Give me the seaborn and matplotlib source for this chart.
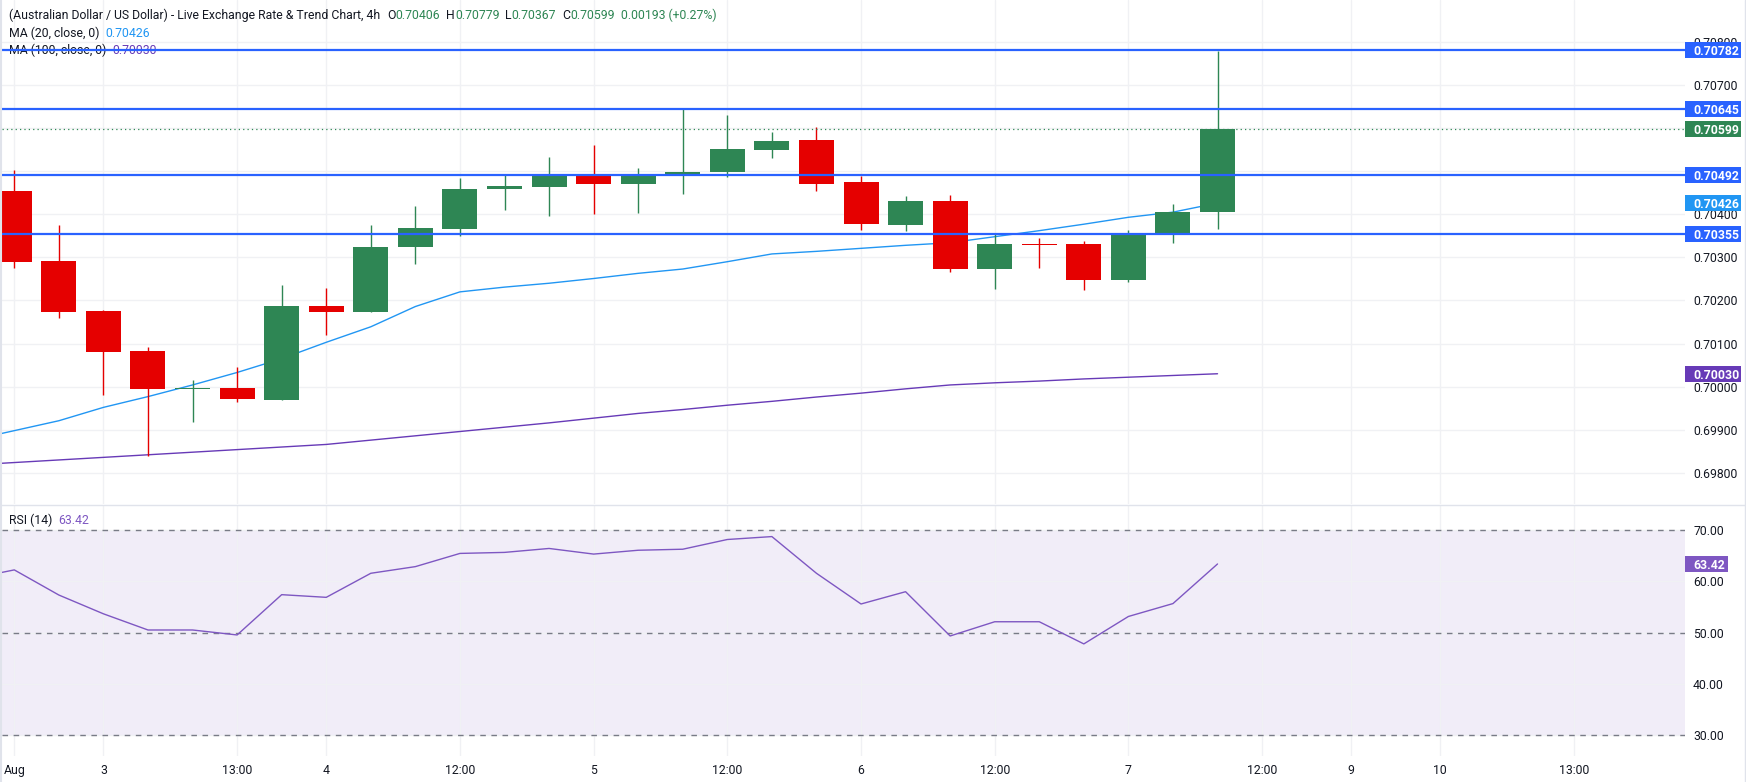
import numpy as np
import pandas as pd
import matplotlib
matplotlib.use("Agg")
import matplotlib.pyplot as plt
import matplotlib.transforms as mtransforms
from matplotlib.patches import Rectangle
from matplotlib.lines import Line2D
import seaborn as sns

# ---------------- data ----------------
opens = [0.70454, 0.70292, 0.70176, 0.70083, 0.69995, 0.69997, 0.69970, 0.70187, 0.70173, 0.70324,
         0.70366, 0.70459, 0.70464, 0.70489, 0.70471, 0.70491, 0.70497, 0.70549, 0.70572, 0.70475,
         0.70376, 0.70431, 0.70273, 0.70331, 0.70331, 0.70248, 0.70353, 0.70406]
highs = [0.70503, 0.70375, 0.70178, 0.70093, 0.70016, 0.70046, 0.70236, 0.70229, 0.70375, 0.70419,
         0.70484, 0.70493, 0.70533, 0.70561, 0.70507, 0.70646, 0.70630, 0.70591, 0.70602, 0.70489,
         0.70443, 0.70445, 0.70356, 0.70345, 0.70338, 0.70364, 0.70424, 0.70779]
lows = [0.70276, 0.70160, 0.69981, 0.69840, 0.69917, 0.69965, 0.69970, 0.70120, 0.70173, 0.70285,
        0.70350, 0.70410, 0.70396, 0.70401, 0.70404, 0.70448, 0.70487, 0.70531, 0.70455, 0.70364,
        0.70362, 0.70267, 0.70227, 0.70276, 0.70225, 0.70244, 0.70334, 0.70367]
closes = [0.70290, 0.70173, 0.70081, 0.69995, 0.69997, 0.69972, 0.70187, 0.70173, 0.70324, 0.70368,
          0.70459, 0.70466, 0.70490, 0.70471, 0.70494, 0.70498, 0.70552, 0.70570, 0.70471, 0.70378,
          0.70431, 0.70273, 0.70331, 0.70329, 0.70248, 0.70355, 0.70405, 0.70599]

# indicator series start one bar before the first visible candle
ma20 = [0.69875, 0.69898, 0.69921, 0.69952, 0.69977, 0.70004, 0.70033, 0.70065, 0.70103, 0.70139,
        0.70186, 0.70220, 0.70231, 0.70240, 0.70251, 0.70263, 0.70273, 0.70290, 0.70308, 0.70314,
        0.70321, 0.70328, 0.70334, 0.70348, 0.70362, 0.70377, 0.70393, 0.70405, 0.70426]
ma100 = [0.69818, 0.69824, 0.69830, 0.69836, 0.69842, 0.69848, 0.69854, 0.69860, 0.69866, 0.69876,
         0.69886, 0.69896, 0.69906, 0.69916, 0.69927, 0.69938, 0.69947, 0.69957, 0.69966, 0.69976,
         0.69985, 0.69995, 0.70004, 0.70009, 0.70013, 0.70018, 0.70022, 0.70026, 0.70030]
rsi = [60.5, 62.26, 57.35, 53.68, 50.52, 50.52, 49.55, 57.42, 56.9, 61.6,
       62.9, 65.48, 65.68, 66.45, 65.35, 66.1, 66.3, 68.2, 68.77, 61.6,
       55.6, 58.0, 49.35, 52.13, 52.13, 47.8, 53.16, 55.68, 63.42]

levels = [0.70782, 0.70645, 0.70492, 0.70355]
last_price = 0.70599

time_tick_pos = [0, 2, 5, 7, 10, 13, 16, 19, 22, 25, 28, 30, 32, 35]
time_tick_labels = ["Aug", "3", "13:00", "4", "12:00", "5", "12:00", "6", "12:00", "7",
                    "12:00", "9", "10", "13:00"]
price_ticks = [0.698, 0.699, 0.700, 0.701, 0.702, 0.703, 0.704, 0.705, 0.706, 0.707, 0.708]
rsi_ticks = [30, 40, 50, 60, 70]
rsi_levels = [30, 50, 70]

title_text = "(Australian Dollar / US Dollar) - Live Exchange Rate & Trend Chart, 4h"
change_text = "0.00193 (+0.27%)"

# ---------------- style ----------------
GREEN = "#2E8654"
RED = "#E50000"
LEVEL = "#2962FF"
MA20C = "#2196F3"
MA100C = "#673AB7"
RSIC = "#7E57C2"
TXT = "#131722"
GRID = "#F0F1F4"
SEP = "#E0E3EB"

sns.set_theme(style="white")
plt.rcParams['font.family'] = ['Roboto', 'DejaVu Sans']
FS = 8.8

W, H = 1746, 782
fig = plt.figure(figsize=(W / 100, H / 100), dpi=100, facecolor="white")


def fx(px):
    return px / W


def fy(py):
    return 1 - py / H


L, R = 2, 1685
ax1 = fig.add_axes([fx(L), fy(504), (R - L) / W, 504 / H])
ax2 = fig.add_axes([fx(L), fy(756), (R - L) / W, (756 - 505) / H], sharex=ax1)

x = np.arange(len(opens))
xi = np.arange(-1, len(opens))
o = np.array(opens); c = np.array(closes); hi = np.array(highs); lo = np.array(lows)
cols = np.where(c >= o, GREEN, RED)
diff = np.abs(c - o)
bh = np.maximum(diff, 0.000022)
bb = np.minimum(o, c) - (bh - diff) / 2

ax1.vlines(x, lo, hi, colors=cols, linewidth=1.0, zorder=3)
ax1.bar(x, bh, bottom=bb, width=0.785, color=cols, linewidth=0, zorder=4)

ind = pd.DataFrame({"x": xi, "ma20": ma20, "ma100": ma100, "rsi": rsi})
sns.lineplot(data=ind, x="x", y="ma20", ax=ax1, color=MA20C, linewidth=1.0, estimator=None, zorder=2)
sns.lineplot(data=ind, x="x", y="ma100", ax=ax1, color=MA100C, linewidth=1.0, estimator=None, zorder=2)

for lv in levels:
    ax1.axhline(lv, color=LEVEL, linewidth=1.6, zorder=6)
ax1.axhline(last_price, color=GREEN, linewidth=0.9, linestyle=(0, (1, 2.5)), zorder=6)

xl = (-0.276, 37.49)
ax1.set_xlim(*xl)
ax1.set_ylim(0.697278, 0.708972)
ax1.set_xticks(time_tick_pos)
ax1.set_yticks(price_ticks)
ax1.set_yticklabels([f"{v:.5f}" for v in price_ticks])
ax1.yaxis.tick_right()
ax1.tick_params(axis="y", length=0, pad=5.8, labelsize=FS, labelcolor=TXT)
ax1.tick_params(axis="x", length=0, labelbottom=False)
ax1.grid(True, color=GRID, linewidth=1)
ax1.set_axisbelow(True)
ax1.set_xlabel(""); ax1.set_ylabel("")
for s in ax1.spines.values():
    s.set_visible(False)

# RSI pane
ax2.axhspan(30, 70, color=RSIC, alpha=0.10, linewidth=0, zorder=0)
sns.lineplot(data=ind, x="x", y="rsi", ax=ax2, color=RSIC, linewidth=1.0, estimator=None, zorder=4)
for lv in rsi_levels:
    ax2.axhline(lv, color="#787B86", linewidth=1.0, linestyle=(0, (4, 4)), zorder=3)
ax2.set_ylim(25.9, 74.94)
ax2.set_yticks(rsi_ticks)
ax2.set_yticklabels([f"{v:.2f}" for v in rsi_ticks])
ax2.yaxis.tick_right()
ax2.set_xticks(time_tick_pos)
ax2.set_xticklabels(time_tick_labels)
ax2.set_xlim(*xl)
ax2.tick_params(axis="y", length=0, pad=5.8, labelsize=FS, labelcolor=TXT)
ax2.tick_params(axis="x", length=0, pad=5.5, labelsize=FS, labelcolor=TXT)
ax2.grid(True, color=GRID, linewidth=1)
ax2.set_axisbelow(True)
ax2.set_xlabel(""); ax2.set_ylabel("")
for s in ax2.spines.values():
    s.set_visible(False)

# price-scale badges
def badge(ax, val, txt, color, hpx, data_per_px, wpx=56):
    tr = mtransforms.blended_transform_factory(ax.transAxes, ax.transData)
    h = hpx * data_per_px
    ax.add_patch(Rectangle((1.0, val - h / 2), wpx / (R - L), h, transform=tr,
                           facecolor=color, edgecolor="none", clip_on=False, zorder=10))
    ax.text((1693 - L) / (R - L), val, txt, transform=tr, color="white", fontsize=FS,
            fontweight="semibold", ha="left", va="center_baseline", zorder=11, clip_on=False)

ppx = (0.708972 - 0.697278) / 504
for lv in levels:
    badge(ax1, lv, f"{lv:.5f}", LEVEL, 16, ppx)
badge(ax1, last_price, f"{last_price:.5f}", GREEN, 16, ppx)
badge(ax1, ma20[-1], f"{ma20[-1]:.5f}", MA20C, 16, ppx)
badge(ax1, ma100[-1], f"{ma100[-1]:.5f}", MA100C, 16, ppx)
rpx = (74.94 - 25.9) / 251
badge(ax2, rsi[-1], f"{rsi[-1]:.2f}", RSIC, 16, rpx, wpx=43)

# header legends
def chain(ax, x_px, y_px, parts, z=2):
    t = ax.text(fx(x_px), fy(y_px), parts[0][0], color=parts[0][1], fontsize=FS,
                ha="left", va="center", transform=fig.transFigure, zorder=z)
    for s, col, gap in parts[1:]:
        t = ax.annotate(s, xy=(1, 0), xycoords=t, xytext=(gap, 0), textcoords="offset pixels",
                        ha="left", va="bottom", color=col, fontsize=FS, zorder=z,
                        annotation_clip=False)
    return t

chain(ax1, 9, 15, [(title_text, TXT, 0),
                   ("O", TXT, 7), (f"{opens[-1]:.5f}", GREEN, 0),
                   ("H", TXT, 6), (f"{highs[-1]:.5f}", GREEN, 0),
                   ("L", TXT, 6), (f"{lows[-1]:.5f}", GREEN, 0),
                   ("C", TXT, 6), (f"{closes[-1]:.5f}", GREEN, 0),
                   (change_text, GREEN, 6)])
chain(ax1, 9, 33, [("MA (20, close, 0)", TXT, 0), (f"{ma20[-1]:.5f}", MA20C, 6)])
chain(ax1, 9, 50, [("MA (100, close, 0)", TXT, 0), (f"{ma100[-1]:.5f}", MA100C, 6)])
chain(ax2, 9, 520, [("RSI (14)", TXT, 0), (f"{rsi[-1]:.2f}", RSIC, 6)])

# pane separators / borders
fig.add_artist(Line2D([0, 1], [fy(504.5), fy(504.5)], color=SEP, linewidth=1.0))
fig.add_artist(Line2D([fx(1744.5), fx(1744.5)], [0, 1], color=SEP, linewidth=1.0))
fig.add_artist(Line2D([fx(0.8), fx(0.8)], [0, 1], color=SEP, linewidth=1.5))

fig.savefig("out.png", dpi=100, facecolor="white")
